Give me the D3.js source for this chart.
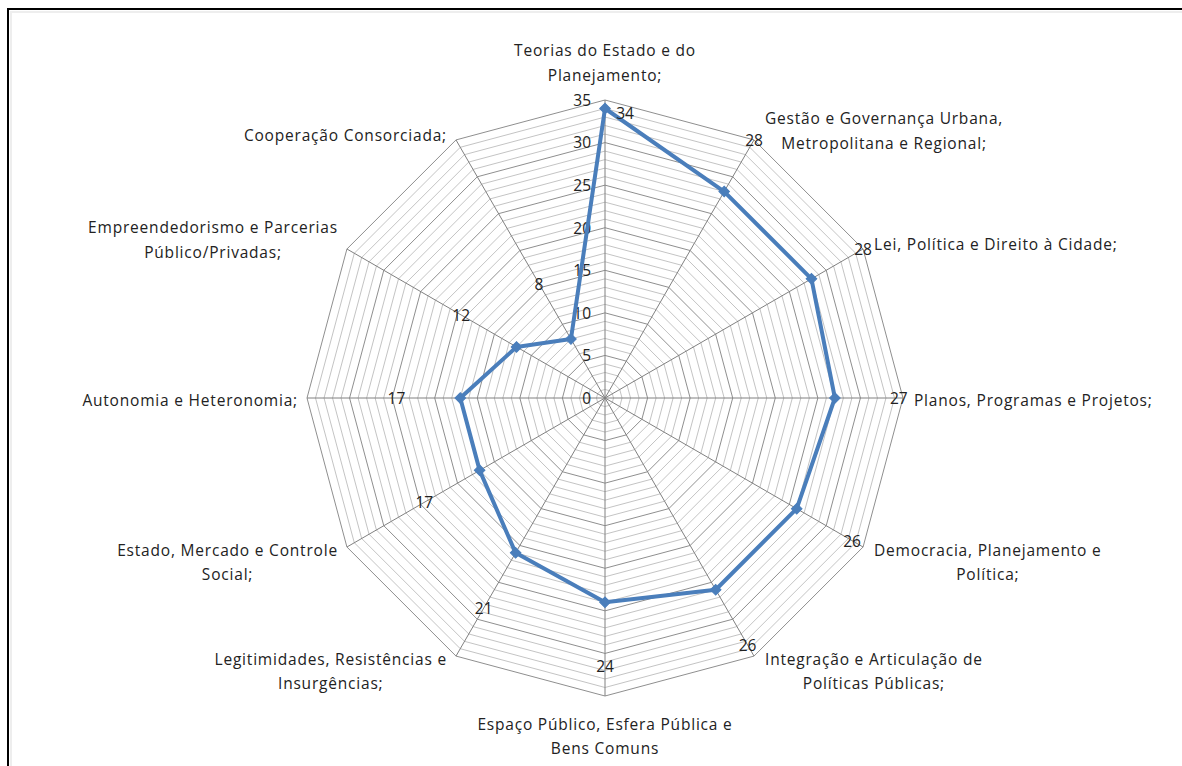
<!DOCTYPE html>
<html>
<head>
<meta charset="utf-8">
<script src="https://cdn.jsdelivr.net/npm/d3@7"></script>
<style>
  body { margin: 0; background: #fff; }
  svg { display: block; }
</style>
</head>
<body>
<svg width="1182" height="766"></svg>
<script>
// eixos (sentido horário, começando no topo)
var categories = [
  ["Teorias do Estado e do", "Planejamento;"],
  ["Gestão e Governança Urbana,", "Metropolitana e Regional;"],
  ["Lei, Política e Direito à Cidade;"],
  ["Planos, Programas e Projetos;"],
  ["Democracia, Planejamento e", "Política;"],
  ["Integração e Articulação de", "Políticas Públicas;"],
  ["Espaço Público, Esfera Pública e", "Bens Comuns"],
  ["Legitimidades, Resistências e", "Insurgências;"],
  ["Estado, Mercado e Controle", "Social;"],
  ["Autonomia e Heteronomia;"],
  ["Empreendedorismo e Parcerias", "Público/Privadas;"],
  ["Cooperação Consorciada;"]
];
var values = [34, 28, 28, 27, 26, 26, 24, 21, 17, 17, 12, 8];
var tickValues = [0, 5, 10, 15, 20, 25, 30, 35];

var svg = d3.select("svg"),
    cx = 605, cy = 398,
    maxV = 35,
    n = categories.length,
    font = "'Open Sans', sans-serif",
    fs = 15.5,
    ls = 0.8;

// moldura
svg.append("path").attr("d", "M8,766 V9 H1182").attr("fill", "none").attr("stroke", "#000").attr("stroke-width", 2);
svg.append("path").attr("d", "M11,766 V12 H1182").attr("fill", "none").attr("stroke", "#eee").attr("stroke-width", 2);

var r = d3.scaleLinear().domain([0, maxV]).range([0, 298]);
var angle = d3.scaleLinear().domain([0, n]).range([0, 2 * Math.PI]);

function pt(i, v) {
  var a = angle(i);
  return [cx + r(v) * Math.sin(a), cy - r(v) * Math.cos(a)];
}

var g = svg.append("g");

// anéis (cada unidade; mais escuros a cada 5)
var rings = d3.range(1, maxV + 1);
g.selectAll("path.ring")
  .data(rings)
  .enter().append("path")
    .attr("class", "ring")
    .attr("d", function(v) {
      return "M" + d3.range(n).map(function(i) { return pt(i, v).join(","); }).join("L") + "Z";
    })
    .attr("fill", "none")
    .attr("stroke", function(v) { return v % 5 === 0 ? "#8f8f8f" : "#c4c4c4"; })
    .attr("stroke-width", 1);

// raios
g.selectAll("line.spoke")
  .data(d3.range(n))
  .enter().append("line")
    .attr("x1", cx).attr("y1", cy)
    .attr("x2", function(i) { return pt(i, maxV)[0]; })
    .attr("y2", function(i) { return pt(i, maxV)[1]; })
    .attr("stroke", "#808080")
    .attr("stroke-width", 1);

// rótulos do eixo de valores
g.selectAll("text.tick")
  .data(tickValues)
  .enter().append("text")
    .attr("x", cx - 14)
    .attr("y", function(v) { return cy - r(v); })
    .attr("dy", "0.38em")
    .attr("text-anchor", "end")
    .attr("font-family", font)
    .attr("font-size", fs)
    .attr("fill", "#222")
    .text(function(v) { return v; });

// série
var line = d3.line().curve(d3.curveLinearClosed);
g.append("path")
  .attr("d", line(values.map(function(v, i) { return pt(i, v); })))
  .attr("fill", "none")
  .attr("stroke", "#4a7ebb")
  .attr("stroke-width", 4)
  .attr("stroke-linejoin", "round");

// marcadores losango (quadrado girado)
var square = d3.symbol().type(d3.symbolSquare).size(56);
g.selectAll("path.marker")
  .data(values)
  .enter().append("path")
    .attr("transform", function(v, i) { var p = pt(i, v); return "translate(" + p[0] + "," + p[1] + ") rotate(45)"; })
    .attr("d", square)
    .attr("fill", "#4a7ebb")
    .attr("stroke", "#4a7ebb")
    .attr("stroke-width", 1);

// rótulos de dados
g.selectAll("text.val")
  .data(values)
  .enter().append("text")
    .attr("x", function(v, i) { var p = pt(i, Math.min(v + 7.5, maxV)); return i === 0 ? cx + 20 : p[0]; })
    .attr("y", function(v, i) { var p = pt(i, Math.min(v + 7.5, maxV)); return i === 0 ? cy - r(v) + 5 : p[1]; })
    .attr("dy", "0.38em")
    .attr("text-anchor", "middle")
    .attr("font-family", font)
    .attr("font-size", fs)
    .attr("fill", "#222")
    .text(function(v) { return v; });

// rótulos das categorias
var lh = 24.5;
categories.forEach(function(lines, i) {
  var a = angle(i), s = Math.sin(a), c = Math.cos(a);
  var v = pt(i, maxV);
  var lab = g.append("g").attr("font-family", font).attr("font-size", fs)
    .attr("letter-spacing", ls).attr("fill", "#222");
  var texts = lab.selectAll("text").data(lines).enter().append("text")
    .attr("text-anchor", "middle")
    .attr("dy", "0.38em")
    .text(function(d) { return d; });
  var w = d3.max(texts.nodes(), function(t) { return t.getComputedTextLength(); });
  var bx, by0;
  if (Math.abs(s) < 1e-6) {
    bx = v[0];
    by0 = c > 0 ? v[1] - 25 - (lines.length - 1) * lh : v[1] + 28;
  } else {
    bx = s > 0 ? v[0] + 11 + w / 2 : v[0] - 9 - w / 2;
    if (Math.abs(c) < 1e-6) by0 = v[1] + 2 - (lines.length - 1) * lh / 2;
    else if (c > 0) by0 = v[1] + 3 - (lines.length - 1) * lh - (lines.length === 1 ? 8 : 0);
    else by0 = v[1] + 3;
  }
  texts.attr("x", bx).attr("y", function(d, k) { return by0 + k * lh; });
});
</script>
</body>
</html>
